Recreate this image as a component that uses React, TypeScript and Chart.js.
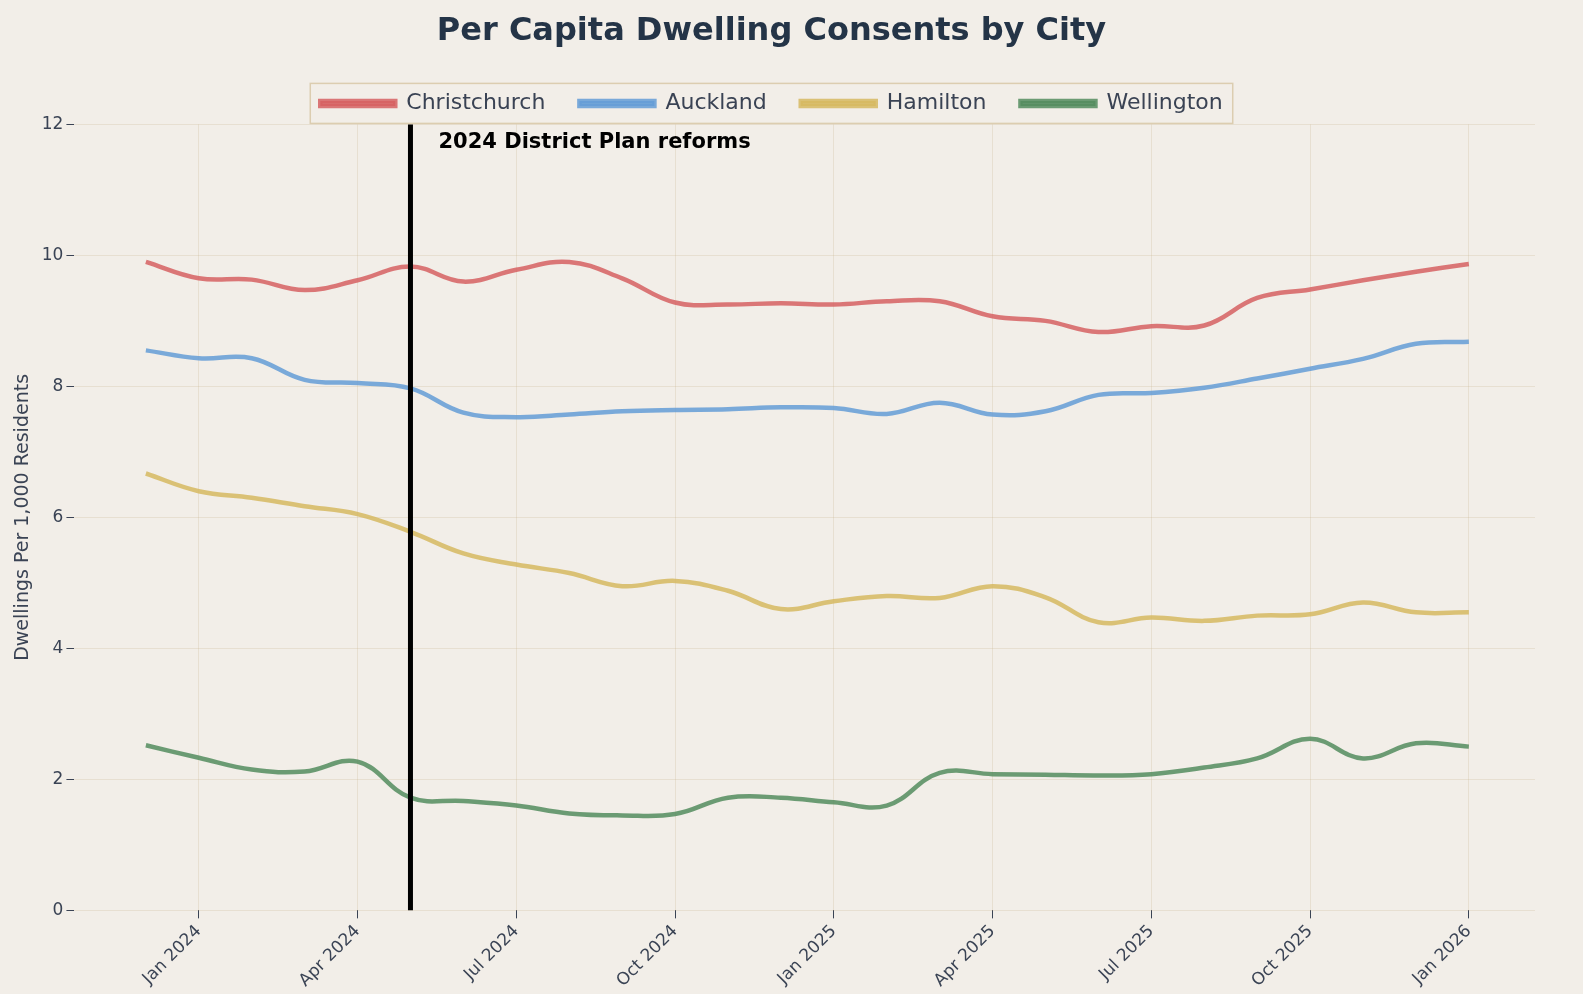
import { useEffect, useRef } from "react";
import Chart from "chart.js/auto";

const monthLabels = ["Jan 2024", "Apr 2024", "Jul 2024", "Oct 2024", "Jan 2025", "Apr 2025", "Jul 2025", "Oct 2025", "Jan 2026"];
const tickIndices = [1, 4, 7, 10, 13, 16, 19, 22, 25];
const christchurch = [9.9, 9.65, 9.63, 9.47, 9.62, 9.83, 9.6, 9.78, 9.9, 9.65, 9.28, 9.25, 9.27, 9.25, 9.3, 9.3, 9.07, 9.0, 8.83, 8.92, 8.93, 9.35, 9.48, 9.62, 9.75, 9.87];
const auckland = [8.55, 8.43, 8.43, 8.1, 8.05, 7.97, 7.6, 7.53, 7.57, 7.62, 7.64, 7.65, 7.68, 7.67, 7.58, 7.75, 7.57, 7.62, 7.87, 7.9, 7.98, 8.12, 8.27, 8.42, 8.65, 8.68];
const hamilton = [6.67, 6.4, 6.3, 6.17, 6.05, 5.78, 5.45, 5.28, 5.15, 4.95, 5.03, 4.88, 4.6, 4.72, 4.8, 4.77, 4.95, 4.78, 4.4, 4.47, 4.42, 4.5, 4.52, 4.7, 4.55, 4.55];
const wellington = [2.52, 2.33, 2.15, 2.12, 2.27, 1.72, 1.67, 1.6, 1.48, 1.45, 1.47, 1.72, 1.72, 1.65, 1.6, 2.1, 2.08, 2.07, 2.06, 2.08, 2.18, 2.32, 2.62, 2.32, 2.55, 2.5];
const reformIndex = 5;

const toPoints = (vals: number[]) => vals.map((y, i) => ({ x: i, y }));

const bgPlugin = {
  id: "bg",
  beforeDraw(chart: any) {
    const { ctx } = chart;
    ctx.save();
    ctx.fillStyle = "#f2eee8";
    ctx.fillRect(0, 0, chart.width, chart.height);
    ctx.restore();
  },
  afterDraw(chart: any) {
    const { ctx, chartArea } = chart;
    const lg = chart.legend;
    ctx.save();
    const boxes = lg.legendHitBoxes || [];
    if (boxes.length) {
      const l = Math.min(...boxes.map((b: any) => b.left)) - 10;
      const r = Math.max(...boxes.map((b: any) => b.left + b.width)) + 10;
      const t = Math.min(...boxes.map((b: any) => b.top)) - 9;
      const btm = Math.max(...boxes.map((b: any) => b.top + b.height)) + 9;
      ctx.strokeStyle = "#dccdb0";
      ctx.lineWidth = 1.5;
      ctx.strokeRect(l, t, r - l, btm - t);
    }
    const x = chart.scales.x.getPixelForValue(reformIndex);
    ctx.strokeStyle = "#000";
    ctx.lineWidth = 5;
    ctx.beginPath();
    ctx.moveTo(x, chartArea.top);
    ctx.lineTo(x, chartArea.bottom);
    ctx.stroke();
    ctx.fillStyle = "#000";
    ctx.font = "bold 21px 'DejaVu Sans'";
    ctx.textBaseline = "middle";
    ctx.fillText("2024 District Plan reforms", x + 28, chartArea.top + 18);
    ctx.restore();
  },
};

export default function App() {
  const ref = useRef<HTMLCanvasElement>(null);
  useEffect(() => {
    const ds = (label: string, data: number[], color: string) => ({
      label, data: toPoints(data), borderColor: color, backgroundColor: color,
      borderWidth: 4.5, pointRadius: 0, tension: 0.4, fill: false,
    });
    const chart = new Chart(ref.current!, {
      type: "line",
      data: {
        datasets: [
          ds("Christchurch", christchurch, "rgba(214,96,98,0.85)"),
          ds("Auckland", auckland, "rgba(100,156,214,0.85)"),
          ds("Hamilton", hamilton, "rgba(214,184,96,0.85)"),
          ds("Wellington", wellington, "rgba(84,140,94,0.85)"),
        ],
      },
      plugins: [bgPlugin],
      options: {
        animation: false,
        responsive: true,
        maintainAspectRatio: false,
        layout: { padding: { left: 8, right: 48, top: 4, bottom: 0 } },
        plugins: {
          title: {
            display: true, text: "Per Capita Dwelling Consents by City", color: "#243447",
            font: { family: "DejaVu Sans", size: 32, weight: "bold" }, padding: { top: 8, bottom: 8 },
          },
          legend: {
            labels: {
              color: "#3a4354", font: { family: "DejaVu Sans", size: 22 },
              boxWidth: 75, boxHeight: 5, padding: 34,
            },
          },
          tooltip: { enabled: false },
        },
        scales: {
          x: {
            type: "linear", min: -1.35, max: 26.25,
            afterBuildTicks: (axis: any) => { axis.ticks = tickIndices.map((v) => ({ value: v })); },
            ticks: {
              color: "#3a4354", font: { family: "DejaVu Sans", size: 17 }, maxRotation: 45, minRotation: 45,
              callback: (v: any) => monthLabels[tickIndices.indexOf(Number(v))] ?? "",
            },
            grid: { color: "rgba(200,180,140,0.25)", tickColor: "#3a4354", tickLength: 8 },
            border: { display: false },
          },
          y: {
            min: 0, max: 12,
            ticks: { stepSize: 2, color: "#3a4354", font: { family: "DejaVu Sans", size: 17 } },
            grid: { color: "rgba(200,180,140,0.25)", tickColor: "#3a4354", tickLength: 8 },
            border: { display: false },
            title: { display: true, text: "Dwellings Per 1,000 Residents", color: "#3a4354", font: { family: "DejaVu Sans", size: 19 } },
          },
        },
      },
    });
    return () => chart.destroy();
  }, []);
  return (
    <div style={{ position: "fixed", inset: 0, background: "#f2eee8" }}>
      <canvas ref={ref} />
    </div>
  );
}
